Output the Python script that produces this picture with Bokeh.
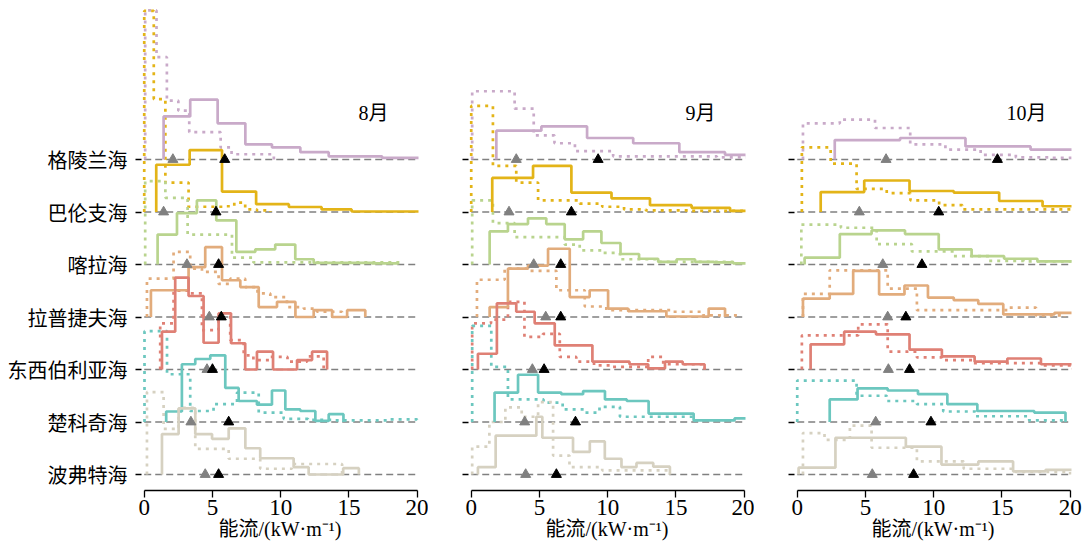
from bokeh.plotting import figure
from bokeh.layouts import row
from bokeh.models import FixedTicker, Range1d
from bokeh.core.properties import value
from bokeh.embed import file_html
from bokeh.resources import INLINE

# ---------------- data ----------------
SEAS = ["格陵兰海", "巴伦支海", "喀拉海", "拉普捷夫海", "东西伯利亚海", "楚科奇海", "波弗特海"]
COLORS = ["#C9AAC9", "#E3B418", "#B9D48E", "#E2AC7C", "#DF8075", "#6CC7BF", "#D6D1C1"]
MONTHS = ["8月", "9月", "10月"]
X_TICKS = [0, 5, 10, 15, 20]
X_LABEL = "能流/(kW·m⁻¹)"

# August
AUG_SOLID_EDGES = [
    [1.42, 3.37, 5.38, 7.41, 9.36, 11.44, 13.52, 15.5, 17.43, 19.4, 21.4],
    [0.88, 3.33, 5.7, 8.2, 10.6, 13.0, 15.2, 17.6, 20.0, 22.4],
    [0.98, 2.4, 3.86, 5.28, 6.75, 8.14, 9.6, 11.07, 12.42, 13.9, 15.3, 16.7, 18.6],
    [0.49, 1.85, 3.25, 4.47, 5.7, 7.04, 8.39, 9.73, 11.08, 12.42, 13.77, 14.87, 16.2],
    [1.3, 2.27, 3.25, 4.35, 5.45, 6.36, 7.4, 8.26, 9.44, 11.2, 12.3, 13.4],
    [1.61, 2.76, 3.74, 4.84, 5.94, 6.92, 8.26, 9.36, 10.34, 11.44, 12.54, 13.52, 14.6],
    [1.3, 2.52, 3.74, 4.97, 6.19, 7.41, 8.5, 9.7, 10.95, 12.05, 13.3, 14.58, 15.73],
]
AUG_SOLID_HEIGHTS = [
    [0.82, 1.14, 0.69, 0.29, 0.23, 0.14, 0.06, 0.06, 0.03, 0.03],
    [0.9, 1.18, 0.39, 0.15, 0.095, 0.05, 0.01, 0.01, 0.01],
    [0.57, 0.98, 1.22, 0.84, 0.24, 0.29, 0.38, 0.1, 0.03, 0.03, 0.03, 0.02],
    [0.51, 0.51, 0.95, 1.33, 0.70, 0.57, 0.19, 0.29, 0.0, 0.13, 0.0, 0.13],
    [0.72, 1.75, 1.40, 0.51, 1.07, 0.5, 0.0, 0.34, 0.0, 0.18, 0.34],
    [0.2, 1.1, 1.2, 1.27, 0.65, 0.4, 0.33, 0.6, 0.24, 0.21, 0.02, 0.15],
    [0.77, 1.26, 0.77, 0.68, 0.88, 0.5, 0.31, 0.31, 0.14, 0.0, 0.0, 0.12],
]
AUG_DOTTED_EDGES = [
    [0.07, 0.9, 1.66, 2.5, 3.3, 4.1, 4.9, 5.6, 6.4, 7.2, 8.0, 8.8, 9.5],
    [0.0, 0.7, 1.55, 2.4, 3.25, 4.1, 4.9, 5.8, 6.6, 7.4, 8.26, 9.24],
    [0.07, 1.55, 3.18, 4.8, 6.43, 8.0, 9.8, 11.6, 13.4, 15.2, 17.0, 18.8],
    [0.2, 2.15, 3.37, 4.23, 5.45, 6.3, 7.4, 8.3, 9.24, 10.46, 11.69, 12.66, 14.5],
    [1.17, 2.15, 3.2, 4.23, 5.45, 6.3, 7.29, 8.0, 9.24, 10.5, 11.93, 13.15],
    [0.02, 1.67, 3.37, 5.08, 6.8, 8.39, 10.22, 12.0, 14.0, 16.0, 18.0, 20.0, 22.0],
    [0.2, 1.42, 2.52, 3.74, 4.97, 6.19, 7.35, 8.5, 9.66, 10.82, 12.05, 13.3, 14.5],
]
AUG_DOTTED_HEIGHTS = [
    [2.84, 1.95, 1.12, 0.93, 0.52, 0.52, 0.52, 0.23, 0.1, 0.1, 0.1, 0.1],
    [3.83, 2.15, 0.56, 0.56, 0.1, 0.1, 0.1, 0.11, 0.18, 0.05, 0.03],
    [1.59, 1.27, 0.57, 0.57, 0.13, 0.04, 0.04, 0.04, 0.04, 0.04, 0.04],
    [0.73, 1.24, 0.92, 0.86, 0.63, 0.73, 0.57, 0.45, 0.38, 0.19, 0.16, 0.1],
    [0.88, 1.5, 1.45, 0.75, 1.0, 0.56, 0.27, 0.18, 0.24, 0.15, 0.25],
    [1.73, 0.91, 0.21, 0.34, 0.56, 0.18, 0.06, 0.04, 0.03, 0.03, 0.05, 0.03],
    [1.57, 0.87, 1.27, 0.49, 0.49, 0.3, 0.3, 0.11, 0.11, 0.2, 0.2, 0.2],
]
AUG_GRAY_MARK = [2.1, 1.42, 3.13, 4.77, 4.6, 3.42, 4.47]
AUG_BLACK_MARK = [5.9, 5.26, 5.45, 5.65, 5.0, 6.19, 5.45]

# September
SEP_SOLID_EDGES = [
    [1.84, 5.14, 8.49, 11.87, 15.25, 18.6, 21.9],
    [1.54, 4.53, 7.34, 10.28, 13.1, 16.15, 18.97, 21.9],
    [1.35, 2.69, 4.16, 5.5, 6.85, 8.2, 9.54, 10.94, 12.3, 13.7, 15.05, 16.4, 17.8, 19.2, 20.5],
    [1.35, 2.69, 4.16, 5.63, 7.22, 8.68, 10.03, 11.5, 12.9, 14.3, 15.7, 17.4, 18.6],
    [0.49, 1.88, 3.3, 4.65, 6.12, 8.88, 11.6, 12.97, 14.2, 15.5, 17.1],
    [1.71, 3.43, 4.9, 6.6, 8.2, 9.8, 11.4, 13.0, 16.3, 19.3, 21.0],
    [0.49, 1.79, 3.5, 4.77, 5.21, 7.46, 8.69, 9.79, 11.01, 12.11, 13.34, 14.56],
]
SEP_SOLID_HEIGHTS = [
    [0.55, 0.63, 0.41, 0.31, 0.14, 0.09],
    [0.65, 0.88, 0.37, 0.26, 0.13, 0.08, 0.02],
    [0.63, 0.77, 0.88, 0.77, 0.48, 0.63, 0.41, 0.2, 0.11, 0.05, 0.1, 0.05, 0.04, 0.02],
    [0.19, 0.92, 0.98, 1.3, 0.38, 0.51, 0.16, 0.11, 0.11, 0.01, 0.01, 0.16],
    [0.3, 1.26, 1.1, 0.88, 0.46, 0.15, 0.1, 0.02, 0.15, 0.1],
    [0.56, 0.9, 0.56, 0.53, 0.59, 0.43, 0.4, 0.16, 0.03, 0.07],
    [0.14, 0.74, 0.74, 1.1, 0.7, 0.43, 0.63, 0.3, 0.14, 0.22, 0.15],
]
SEP_DOTTED_EDGES = [
    [0.07, 1.6, 3.18, 4.58, 6.1, 7.6, 9.0, 10.4, 12.0, 13.5, 15.0, 16.5, 18.0, 19.5, 21.0],
    [0.0, 1.59, 3.3, 4.9, 6.4, 7.95, 9.6, 11.2, 12.8, 14.4, 16.0, 17.6, 19.2, 20.8],
    [0.07, 1.59, 3.18, 6.85, 7.95, 9.67, 10.9, 13.6, 19.2],
    [0.42, 2.45, 4.1, 6.24, 8.32, 9.9, 14.6, 17.0, 19.7],
    [0.07, 1.45, 2.69, 3.9, 5.26, 6.49, 7.7, 9.0, 10.3, 11.6, 12.97, 14.07, 15.4, 17.1],
    [0.07, 1.47, 2.69, 4.0, 5.3, 6.7, 8.3, 9.4, 10.9, 12.2, 13.6, 15.0, 16.4],
    [0.07, 1.33, 2.5, 3.7, 4.9, 6.0, 7.2, 8.4, 9.6, 10.8, 12.0, 13.2, 14.5],
]
SEP_DOTTED_HEIGHTS = [
    [1.3, 1.3, 0.97, 0.46, 0.31, 0.16, 0.16, 0.06, 0.06, 0.06, 0.06, 0.06, 0.04, 0.04],
    [2.02, 0.88, 0.56, 0.22, 0.22, 0.16, 0.1, 0.05, 0.03, 0.03, 0.02, 0.02, 0.02],
    [1.22, 0.79, 0.52, 0.38, 0.27, 0.22, 0.1, 0.05],
    [0.71, 0.92, 0.88, 0.51, 0.2, 0.13, 0.1, 0.03],
    [0.88, 0.95, 1.29, 0.62, 0.68, 0.24, 0.15, 0.08, 0.05, 0.05, 0.24, 0.1, 0.1],
    [1.83, 1.05, 0.43, 0.43, 0.37, 0.24, 0.18, 0.29, 0.1, 0.1, 0.1, 0.1],
    [0.53, 1.0, 1.28, 1.1, 1.38, 0.36, 0.14, 0.14, 0.08, 0.08, 0.08, 0.08],
]
SEP_GRAY_MARK = [3.3, 2.77, 4.58, 5.46, 4.48, 3.92, 3.99]
SEP_BLACK_MARK = [9.3, 7.34, 6.56, 6.56, 5.34, 7.64, 6.24]

# October
OCT_SOLID_EDGES = [
    [2.75, 7.54, 12.33, 17.1, 21.9],
    [1.72, 4.91, 8.23, 11.47, 14.8, 17.98, 21.2],
    [0.54, 3.12, 5.45, 7.9, 10.37, 12.78, 15.16, 17.6, 20.5],
    [0.42, 2.38, 4.1, 6.0, 7.86, 9.58, 11.47, 13.27, 15.1, 17.0, 18.85, 20.7],
    [0.98, 3.44, 5.77, 8.23, 10.6, 13.0, 15.4, 17.86, 20.3],
    [2.38, 4.42, 6.63, 8.85, 11.0, 13.2, 15.3, 17.37, 19.66],
    [0.1, 2.8, 5.4, 7.96, 10.57, 13.27, 15.82, 18.2, 20.8],
]
OCT_SOLID_HEIGHTS = [
    [0.37, 0.41, 0.25, 0.19],
    [0.38, 0.6, 0.4, 0.37, 0.21, 0.11],
    [0.13, 0.58, 0.65, 0.58, 0.29, 0.16, 0.11, 0.06],
    [0.35, 0.44, 0.88, 0.43, 0.6, 0.37, 0.32, 0.25, 0.05, 0.05, 0.08],
    [0.48, 0.72, 0.67, 0.38, 0.25, 0.15, 0.21, 0.1],
    [0.43, 0.64, 0.6, 0.53, 0.34, 0.21, 0.21, 0.18],
    [0.13, 0.7, 0.7, 0.53, 0.19, 0.25, 0.06, 0.09],
]
OCT_DOTTED_EDGES = [
    [0.42, 3.12, 5.7, 8.28, 10.86, 13.44, 16.02, 18.6, 21.2],
    [0.34, 2.45, 4.35, 6.56, 8.3, 10.4, 12.1, 14.2, 16.3, 18.4, 20.5],
    [0.3, 3.2, 5.82, 8.4, 11.47, 14.05, 16.6, 19.2, 21.8],
    [0.42, 2.38, 4.5, 6.63, 8.77, 10.9, 13.0, 15.5, 17.5, 19.6],
    [0.34, 4.47, 6.63, 8.77, 10.6, 12.9, 15.4, 17.8, 20.2],
    [0.0, 4.35, 6.56, 8.77, 10.7, 13.07, 17.0, 19.6],
    [0.42, 2.0, 3.86, 5.45, 8.77, 11.0, 12.2, 14.0, 16.0, 18.0, 20.0],
]
OCT_DOTTED_HEIGHTS = [
    [0.69, 0.76, 0.6, 0.29, 0.19, 0.09, 0.04, 0.03],
    [1.23, 0.92, 0.44, 0.36, 0.22, 0.13, 0.05, 0.05, 0.05, 0.05],
    [0.76, 0.7, 0.39, 0.25, 0.16, 0.07, 0.06, 0.06],
    [0.44, 0.89, 0.89, 0.54, 0.13, 0.13, 0.13, 0.18, 0.03],
    [0.65, 0.86, 0.34, 0.23, 0.18, 0.12, 0.12, 0.08],
    [0.79, 0.5, 0.4, 0.34, 0.2, 0.11, 0.03],
    [0.79, 0.66, 0.93, 0.51, 0.25, 0.25, 0.11, 0.11, 0.05, 0.05],
]
OCT_GRAY_MARK = [6.51, 4.55, 6.27, 6.63, 6.68, 5.75, 5.5]
OCT_BLACK_MARK = [14.67, 10.37, 9.14, 7.96, 8.23, 9.8, 8.53]

PANELS = [
    (AUG_SOLID_EDGES, AUG_SOLID_HEIGHTS, AUG_DOTTED_EDGES, AUG_DOTTED_HEIGHTS, AUG_GRAY_MARK, AUG_BLACK_MARK),
    (SEP_SOLID_EDGES, SEP_SOLID_HEIGHTS, SEP_DOTTED_EDGES, SEP_DOTTED_HEIGHTS, SEP_GRAY_MARK, SEP_BLACK_MARK),
    (OCT_SOLID_EDGES, OCT_SOLID_HEIGHTS, OCT_DOTTED_EDGES, OCT_DOTTED_HEIGHTS, OCT_GRAY_MARK, OCT_BLACK_MARK),
]

# ---------------- styling / layout ----------------
SERIF = "Liberation Serif, Noto Sans CJK SC"
CJK = "Noto Sans CJK SC"
X_MIN, X_MAX = 0, 20
N = len(SEAS)
PX_PER_UNIT = 52.5
FRAME_H = 482
Y_START = -16 / PX_PER_UNIT
Y_END = Y_START + FRAME_H / PX_PER_UNIT
WIDTHS = [428, 326, 328]
BORDER_L = [141, 40, 40]
BORDER_R = [10, 9, 11]


def step_path(edges, heights, base):
    xs = [edges[0]]
    ys = [base]
    for i, h in enumerate(heights):
        xs += [edges[i], edges[i + 1]]
        ys += [base + h, base + h]
    xs.append(edges[-1])
    ys.append(base)
    return xs, ys


figs = []
for j, (se, sh, de, dh, gm, bm) in enumerate(PANELS):
    p = figure(width=WIDTHS[j], height=550,
               x_range=Range1d(-0.2, 20.1), y_range=Range1d(Y_START, Y_END),
               output_backend="svg", toolbar_location=None,
               min_border_left=BORDER_L[j], min_border_right=BORDER_R[j],
               min_border_top=8, min_border_bottom=60)
    p.outline_line_color = None
    p.grid.visible = False
    p.background_fill_color = "white"
    p.border_fill_color = "white"

    bases = [N - 1 - k for k in range(N)]

    # baselines
    p.multi_line(xs=[[X_MIN, X_MAX] for _ in bases], ys=[[b, b] for b in bases],
                 line_color="#808080", line_width=1.3, line_dash="7 4")

    for k in range(N):
        xs, ys = step_path(de[k], dh[k], bases[k])
        p.line(xs, ys, line_color=COLORS[k], line_width=2.7, line_dash="3 5")
    for k in range(N):
        xs, ys = step_path(se[k], sh[k], bases[k])
        p.line(xs, ys, line_color=COLORS[k], line_width=2.7)

    p.scatter(gm, bases, marker="triangle", size=10, color="#808080")
    p.scatter(bm, bases, marker="triangle", size=10, color="black")

    p.text(x=[16.8], y=[6.88], text=[MONTHS[j]], text_font=value(SERIF),
           text_font_size=value("20px"), text_align="center",
           text_baseline="middle", text_color="black")

    # x axis
    xa = p.xaxis[0]
    xa.ticker = FixedTicker(ticks=X_TICKS)
    xa.bounds = (X_MIN, X_MAX)
    xa.axis_line_color = "black"
    xa.axis_line_width = 1.3
    xa.major_tick_line_color = "black"
    xa.major_tick_line_width = 1.3
    xa.major_tick_out = 7
    xa.major_tick_in = 0
    xa.minor_tick_line_color = None
    xa.major_label_text_font = "Liberation Serif"
    xa.major_label_text_font_size = "23px"
    xa.major_label_text_color = "black"
    xa.major_label_standoff = 2
    xa.axis_label = X_LABEL
    xa.axis_label_text_font = SERIF
    xa.axis_label_text_font_size = "20px"
    xa.axis_label_text_font_style = "normal"
    xa.axis_label_text_color = "black"
    xa.axis_label_standoff = 0

    # y axis
    ya = p.yaxis[0]
    ya.ticker = FixedTicker(ticks=bases)
    ya.axis_line_color = None
    ya.major_tick_line_color = "black"
    ya.major_tick_line_width = 1.5
    ya.major_tick_out = 6
    ya.major_tick_in = 0
    ya.minor_tick_line_color = None
    if j == 0:
        ya.major_label_overrides = {bases[k]: SEAS[k] for k in range(N)}
        ya.major_label_text_font = CJK
        ya.major_label_text_font_size = "20px"
        ya.major_label_text_color = "black"
        ya.major_label_standoff = 8
    else:
        ya.major_label_overrides = {b: "" for b in bases}
        ya.major_label_standoff = 0

    figs.append(p)

layout = row(*figs)
open("out.html", "w").write(file_html(layout, INLINE))
